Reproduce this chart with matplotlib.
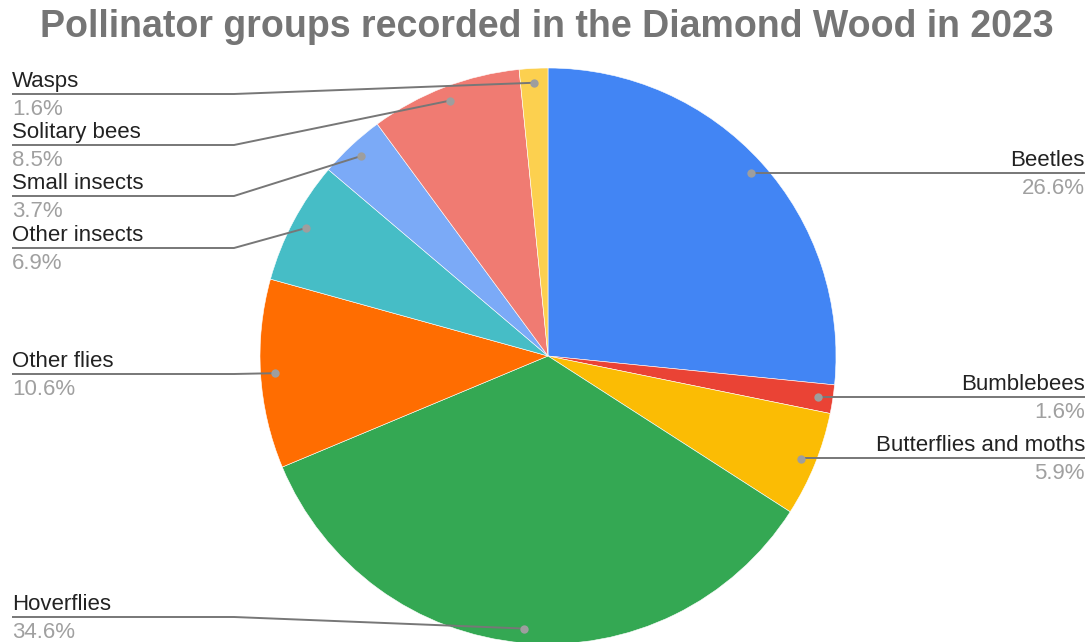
import matplotlib.pyplot as plt
import numpy as np

plt.rcParams['font.family'] = ['Liberation Sans', 'DejaVu Sans']

# pollinator groups, in drawing order (clockwise from 12 o'clock)
groups = ["Beetles", "Bumblebees", "Butterflies and moths", "Hoverflies", "Other flies",
          "Other insects", "Small insects", "Solitary bees", "Wasps"]
shares = [26.6, 1.6, 5.9, 34.6, 10.6, 6.9, 3.7, 8.5, 1.6]
colours = ["#4285f4", "#ea4335", "#fbbc04", "#34a853", "#ff6d01",
           "#46bdc6", "#7baaf7", "#f07b72", "#fcd04f"]

# where each label sits: side of the chart and height of its leader line (px from top)
label_side = ["right", "right", "right", "left", "left", "left", "left", "left", "left"]
label_line_y = [173, 397, 458, 617, 374, 248, 196, 145, 94]

W, H = 1090, 642
cx, cy, r = 548, H - 356, 288

fig = plt.figure(figsize=(W / 100, H / 100), dpi=100)
ax = fig.add_axes([0, 0, 1, 1])
ax.pie(shares, colors=colours, startangle=90, counterclock=False,
       center=(cx, cy), radius=r, frame=True,
       wedgeprops=dict(linewidth=0.4, edgecolor="white"))
ax.set_xlim(0, W)
ax.set_ylim(0, H)
ax.axis("off")

ax.text(547, H - 37, "Pollinator groups recorded in the Diamond Wood in 2023",
        ha="center", va="baseline", fontsize=27, fontweight="bold", color="#757575")

# leader lines, dots and labels
total = sum(shares)
cum = np.cumsum([0] + shares[:-1])
for name, v, c0, side, ly in zip(groups, shares, cum, label_side, label_line_y):
    ang = np.deg2rad((c0 + v / 2) / total * 360)
    dx = cx + 0.95 * r * np.sin(ang)
    dy = cy + 0.95 * r * np.cos(ang)
    y = H - ly
    if side == "left":
        xs = [dx, 234, 12]
        tx, ha = 12, "left"
    else:
        xs = [dx, dx, 1085]
        tx, ha = 1085, "right"
    ax.plot(xs, [dy, y, y], color="#777777", lw=1.4, solid_capstyle="butt", zorder=3)
    ax.plot(dx, dy, "o", color="#9e9e9e", ms=6, mec="none", zorder=4)
    ax.text(tx, y + 7, name, ha=ha, va="baseline", fontsize=16, color="#222222")
    ax.text(tx, y - 21, f"{v:.1f}%", ha=ha, va="baseline", fontsize=16, color="#a0a0a0")

fig.savefig("out.png", dpi=100, facecolor="white")
